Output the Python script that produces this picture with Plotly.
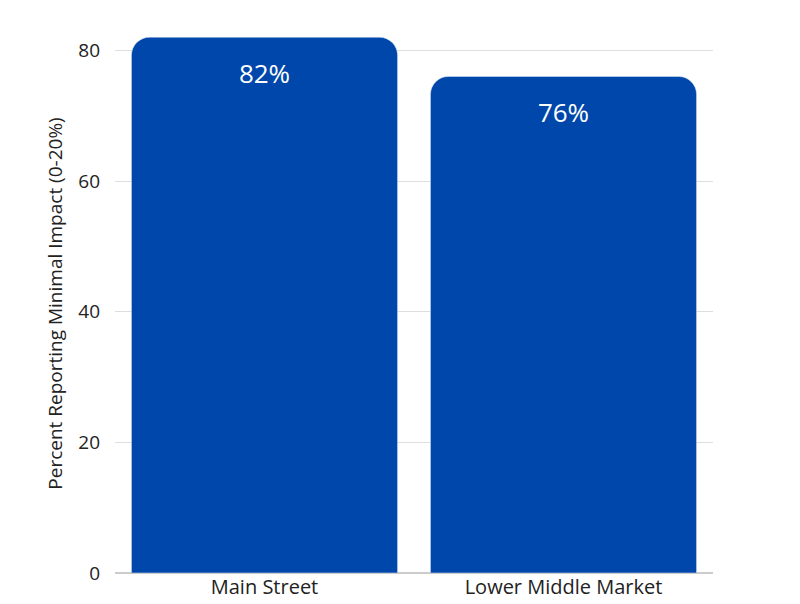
import plotly.graph_objects as go

categories = ["Main Street", "Lower Middle Market"]
values = [82, 76]
labels = ["82%", "76%"]

fig = go.Figure(go.Bar(
    x=categories, y=values, text=labels,
    textposition="inside", insidetextanchor="end",
    textfont=dict(color="white", size=26, family="Open Sans"),
    marker=dict(color="#0047AB", cornerradius=18),
))
fig.update_layout(
    width=800, height=604, plot_bgcolor="white", paper_bgcolor="white",
    margin=dict(l=107, r=95, t=26, b=30), bargap=0.11,
    font=dict(family="Open Sans", color="#222", size=19),
    showlegend=False,
)
fig.update_yaxes(range=[0, 82.5], tickvals=[0, 20, 40, 60, 80], showgrid=True,
                 gridcolor="#dddddd", zeroline=True, zerolinecolor="#cccccc",
                 ticklabelstandoff=14,
                 title=dict(text="Percent Reporting Minimal Impact (0-20%)", font=dict(size=19), standoff=10))
fig.update_xaxes(showline=False, tickfont=dict(size=20))
fig.write_html("out.html")
